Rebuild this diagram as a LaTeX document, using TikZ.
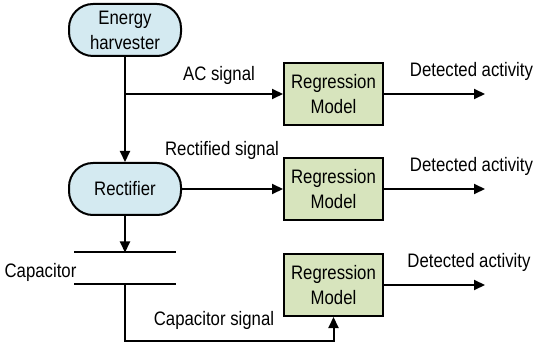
\documentclass[tikz,border=0pt]{standalone}
\usepackage{fontspec}
\setmainfont{Liberation Sans}[FakeStretch=0.86]
\usetikzlibrary{arrows.meta}
\definecolor{boxgreen}{HTML}{D7E4BD}
\definecolor{boxblue}{HTML}{D4EAF1}
\begin{document}
\begin{tikzpicture}[x=1pt,y=-1pt,
  every node/.style={font=\fontsize{19.5}{25}\selectfont},
  wire/.style={line width=2pt},
  arr/.style={wire,-{Triangle[length=11pt,width=10pt]}},
  block/.style={draw,line width=2pt,fill=boxblue,rounded corners=24pt,minimum width=112pt,minimum height=52pt,inner sep=0pt,align=center},
  model/.style={draw,line width=2pt,fill=boxgreen,minimum width=99pt,minimum height=62pt,inner sep=0pt,align=center},
  lbl/.style={anchor=base,inner sep=0pt}]
\useasboundingbox (0,0) rectangle (535,347);
% blocks
\node[block] (eh) at (125,30) {Energy\\harvester};
\node[block] (rect) at (125,189) {Rectifier};
\node[model] (m1) at (333.5,94) {Regression\\Model};
\node[model] (m2) at (333.5,189) {Regression\\Model};
\node[model] (m3) at (333.5,285) {Regression\\Model};
% coordinates
\coordinate (br) at (125,94);
\coordinate (c1) at (125,252.5);
\coordinate (c1l) at (74,252.5);
\coordinate (c1r) at (176,252.5);
\coordinate (c2) at (125,284);
\coordinate (c2l) at (74,284);
\coordinate (c2r) at (176,284);
\coordinate (bot) at (125,341);
\coordinate (o1) at (485,94);
\coordinate (o2) at (485,189);
\coordinate (o3) at (485,285);
% connectors
\draw[arr] (eh.south) -- (rect.north);
\draw[arr] (br) -- (m1.west);
\draw[arr] (rect.east) -- (m2.west);
\draw[arr] (rect.south) -- (c1);
\draw[wire] (c1l) -- (c1r);
\draw[wire] (c2l) -- (c2r);
\draw[arr] (c2) -- (bot) -| (m3.south);
\draw[arr] (m1.east) -- (o1);
\draw[arr] (m2.east) -- (o2);
\draw[arr] (m3.east) -- (o3);
% labels
\node[lbl] (ac) at (219,80.5) {AC signal};
\node[lbl] (rs) at (222,155.7) {Rectified signal};
\node[lbl] (cs) at (214,325) {Capacitor signal};
\node[lbl] (cap) at (40.5,277.3) {Capacitor};
\node[lbl] (d1) at (471.5,76.7) {Detected activity};
\node[lbl] (d2) at (471.5,171.7) {Detected activity};
\node[lbl] (d3) at (469,267.5) {Detected activity};
\end{tikzpicture}
\end{document}
